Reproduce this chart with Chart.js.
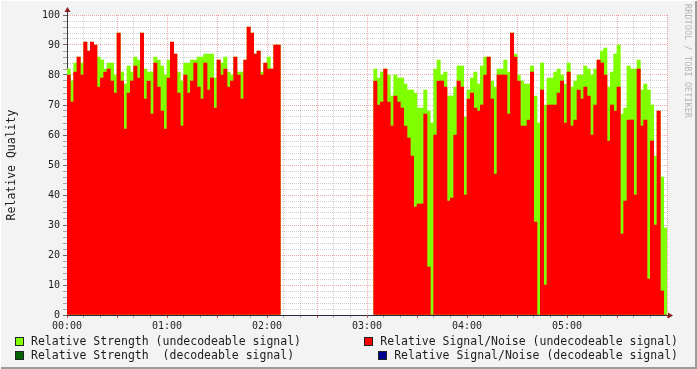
<!DOCTYPE html>
<html>
<head>
<meta charset="utf-8">
<script src="https://cdn.jsdelivr.net/npm/chart.js@4.4.0/dist/chart.umd.min.js"></script>
<style>
  html, body { margin: 0; padding: 0; background: #f3f3f3; }
  #frame { position: relative; width: 697px; height: 369px; overflow: hidden; background: #f3f3f3; }
  #chart { position: absolute; left: 0; top: 0; }
  #edge { position: absolute; inset: 0; pointer-events: none;
          box-shadow: inset 1px 1px 0 #ffffff, inset -2px -2px 0 #9c9c9c; }
  .leg { position: absolute; font: 11.5px "DejaVu Sans Mono", monospace; color: #1c1c1c;
         white-space: pre; line-height: 14px; display: flex; align-items: center; }
  .leg i { display: inline-block; width: 7px; height: 7px; border: 1px solid #222; margin-right: 7px; }
  #credit { position: absolute; left: 683px; top: 4px; writing-mode: vertical-rl;
            font: 8.3px "DejaVu Sans Mono", monospace; color: #b4b4b4; letter-spacing: 0.2px; }
</style>
</head>
<body>
<div id="frame">
  <canvas id="chart" width="697" height="369"></canvas>
  <div id="credit">RRDTOOL / TOBI OETIKER</div>
  <div id="legend"></div>
  <div id="edge"></div>
</div>
<script>
// 2 分刻みのサンプル（00:00〜06:00、180 本）。null はデータなし区間
const strength = [
  82, 78, 84, 86, 84, 91, 88, 91, 90, 86,
  85, 82, 84, 84, 80, 94, 81, 77, 83, 81,
  86, 85, 94, 82, 81, 81, 86, 85, 83, 80,
  85, 91, 87, 81, 78, 84, 84, 85, 85, 86,
  86, 87, 87, 87, 79, 85, 84, 86, 81, 80,
  86, 81, 81, 85, 96, 94, 87, 88, 81, 84,
  86, 82, 90, 90, null, null, null, null, null, null,
  null, null, null, null, null, null, null, null, null, null,
  null, null, null, null, null, null, null, null, null, null,
  null, null, 82, 79, 81, 82, 80, 73, 80, 79,
  79, 77, 75, 75, 74, 69, 69, 75, 68, 64,
  82, 85, 80, 81, 73, 73, 76, 83, 83, 66,
  75, 79, 81, 77, 83, 86, 86, 78, 76, 82,
  82, 85, 81, 94, 87, 80, 78, 77, 77, 83,
  73, 64, 84, 70, 79, 79, 81, 82, 80, 77,
  84, 76, 78, 80, 80, 83, 82, 80, 82, 85,
  88, 89, 76, 81, 87, 90, 67, 69, 83, 82,
  82, 85, 75, 77, 75, 70, 53, 68, 46, 29
];

const signalNoise = [
  80, 71, 81, 86, 80, 91, 88, 91, 90, 76,
  79, 81, 82, 78, 74, 94, 78, 62, 74, 78,
  83, 79, 94, 72, 78, 67, 84, 76, 68, 62,
  79, 91, 87, 74, 63, 80, 74, 78, 84, 76,
  72, 84, 75, 79, 69, 85, 80, 82, 76, 78,
  86, 80, 72, 85, 96, 94, 87, 88, 80, 84,
  82, 82, 90, 90, null, null, null, null, null, null,
  null, null, null, null, null, null, null, null, null, null,
  null, null, null, null, null, null, null, null, null, null,
  null, null, 78, 70, 71, 82, 71, 63, 73, 71,
  69, 63, 59, 53, 36, 37, 37, 67, 16, 0,
  60, 78, 78, 76, 38, 39, 60, 78, 76, 40,
  72, 74, 69, 68, 70, 80, 86, 72, 47, 80,
  80, 80, 67, 94, 86, 78, 63, 63, 65, 81,
  31, 0, 75, 10, 70, 70, 70, 74, 78, 64,
  81, 63, 65, 75, 72, 76, 73, 60, 70, 85,
  84, 80, 58, 70, 68, 76, 27, 38, 65, 65,
  40, 82, 63, 65, 12, 58, 30, 68, 8, 0
];

// 各サンプルの中心時刻（分）
const sampleMinutes = strength.map((_, i) => i * 2 + 1);

const timeLabels = ["00:00", "01:00", "02:00", "03:00", "04:00", "05:00"];

const seriesNames = [
  "Relative Strength (undecodeable signal)",
  "Relative Signal/Noise (undecodeable signal)",
  "Relative Strength  (decodeable signal)",
  "Relative Signal/Noise (decodeable signal)",
];
const seriesColors = ["#80ff00", "#ff0000", "#006400", "#000090"];

Chart.defaults.font.family = '"DejaVu Sans Mono", monospace';
Chart.defaults.color = "#1c1c1c";

const minorGrid = "rgba(150, 150, 150, 0.45)";
const majorGrid = "rgba(225, 80, 80, 0.5)";

// 描画領域の白背景と軸の矢印
const plotDecor = {
  id: "plotDecor",
  beforeDraw(chart) {
    const { ctx, chartArea: a } = chart;
    ctx.save();
    ctx.fillStyle = "#ffffff";
    ctx.fillRect(a.left, a.top, a.right - a.left, a.bottom - a.top);
    ctx.restore();
  },
  afterDraw(chart) {
    const { ctx, chartArea: a } = chart;
    ctx.save();
    ctx.strokeStyle = "#444";
    ctx.lineWidth = 1;
    ctx.beginPath();
    ctx.moveTo(a.left + 0.5, a.top);
    ctx.lineTo(a.left + 0.5, a.top - 5);
    ctx.moveTo(a.right, a.bottom + 0.5);
    ctx.lineTo(a.right + 5, a.bottom + 0.5);
    ctx.stroke();
    ctx.fillStyle = "#8b1c1c";
    ctx.beginPath();
    ctx.moveTo(a.left - 2.5, a.top - 3);
    ctx.lineTo(a.left + 3.5, a.top - 3);
    ctx.lineTo(a.left + 0.5, a.top - 8);
    ctx.closePath();
    ctx.fill();
    ctx.beginPath();
    ctx.moveTo(a.right + 1, a.bottom - 2.5);
    ctx.lineTo(a.right + 1, a.bottom + 3.5);
    ctx.lineTo(a.right + 6, a.bottom + 0.5);
    ctx.closePath();
    ctx.fill();
    ctx.restore();
  },
};

const toPoints = (values) => values.map((v, i) => ({ x: sampleMinutes[i], y: v }));

new Chart(document.getElementById("chart"), {
  type: "bar",
  data: {
    datasets: [
      {
        label: seriesNames[1],
        data: toPoints(signalNoise),
        backgroundColor: seriesColors[1],
        order: 0,
      },
      {
        label: seriesNames[0],
        data: toPoints(strength),
        backgroundColor: seriesColors[0],
        order: 1,
      },
    ],
  },
  options: {
    responsive: false,
    animation: false,
    devicePixelRatio: 1,
    layout: { padding: { top: 15, right: 30, left: 0, bottom: 0 } },
    datasets: {
      bar: { barPercentage: 1, categoryPercentage: 1, grouped: false, borderWidth: 0 },
    },
    plugins: { legend: { display: false }, tooltip: { enabled: false } },
    scales: {
      x: {
        type: "linear",
        min: 0,
        max: 360,
        offset: false,
        z: 1,
        afterFit: (s) => { s.height = 54; },
        grid: {
          offset: false,
          tickLength: 3,
          color: (c) => (c.tick.value % 30 === 0 ? majorGrid : minorGrid),
          tickColor: (c) => (c.tick.value % 30 === 0 ? "rgba(210,40,40,0.8)" : "rgba(120,120,120,0.6)"),
        },
        border: { color: "#2a2a3a", width: 1, dash: [1, 1] },
        ticks: {
          stepSize: 10,
          maxTicksLimit: 100,
          autoSkip: false,
          maxRotation: 0,
          padding: 2,
          font: { size: 10 },
          callback: (v) => (v % 60 === 0 && v < 360 ? timeLabels[v / 60] : ""),
        },
      },
      y: {
        min: 0,
        max: 100,
        z: 1,
        afterFit: (s) => { s.width = 67; },
        grid: {
          tickLength: 4,
          color: (c) => (c.tick.value % 10 === 0 ? majorGrid : minorGrid),
          tickColor: (c) => (c.tick.value % 10 === 0 ? "rgba(90,90,90,0.9)" : "rgba(120,120,120,0.6)"),
        },
        border: { color: "#3a3a3a", width: 1, dash: [1, 1] },
        ticks: {
          stepSize: 2,
          maxTicksLimit: 100,
          autoSkip: false,
          padding: 3,
          font: { size: 10 },
          callback: (v) => (v % 10 === 0 ? String(v) : ""),
        },
        title: {
          display: true,
          text: "Relative Quality",
          font: { size: 11.5 },
          padding: { top: 5, bottom: 0 },
        },
      },
    },
  },
  plugins: [plotDecor],
});

// 凡例（rrdtool 風の 2 列配置）
const legendSlots = [
  { left: 15, top: 334 },
  { right: 19, top: 334 },
  { left: 15, top: 348 },
  { right: 19, top: 348 },
];
const legendBox = document.getElementById("legend");
seriesNames.forEach((name, i) => {
  const el = document.createElement("div");
  el.className = "leg";
  const slot = legendSlots[i];
  if (slot.left !== undefined) el.style.left = slot.left + "px";
  if (slot.right !== undefined) el.style.right = slot.right + "px";
  el.style.top = slot.top + "px";
  const sw = document.createElement("i");
  sw.style.background = seriesColors[i];
  el.appendChild(sw);
  el.appendChild(document.createTextNode(name));
  legendBox.appendChild(el);
});
</script>
</body>
</html>
